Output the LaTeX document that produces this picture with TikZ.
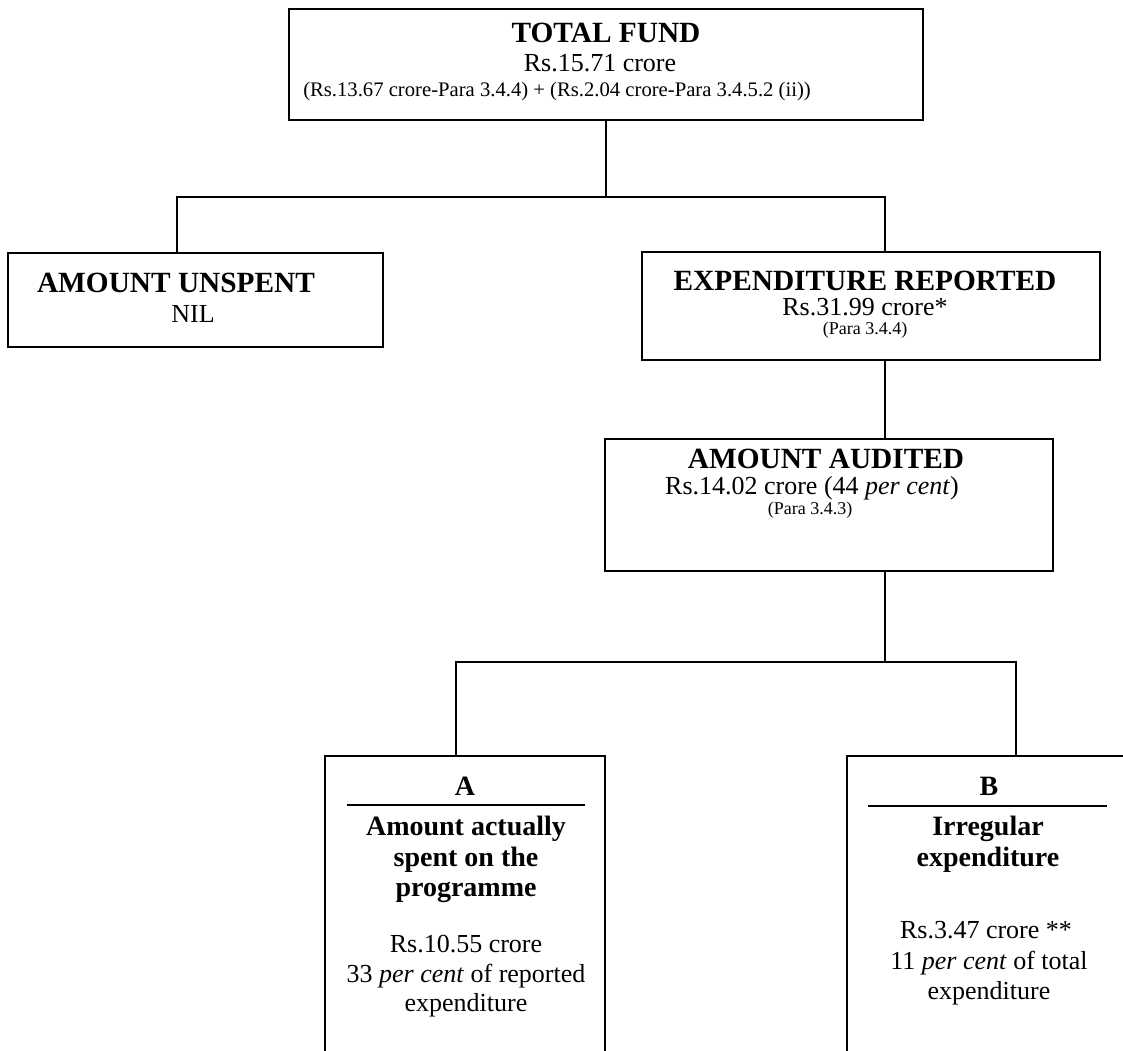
\documentclass[tikz,border=0pt]{standalone}
\usepackage{fontspec}
\setmainfont{Liberation Serif}
\usetikzlibrary{calc}
\begin{document}
\begin{tikzpicture}[x=0.75pt,y=-0.75pt,
  box/.style={draw, line width=1.1pt, rectangle, inner sep=0pt},
  conn/.style={line width=1.1pt},
  hd/.style={anchor=base, font=\fontsize{22}{26}\selectfont\bfseries, inner sep=0pt},
  val/.style={anchor=base, font=\fontsize{19.5}{23}\selectfont, inner sep=0pt},
  para/.style={anchor=base, font=\fontsize{13.5}{16}\selectfont, inner sep=0pt},
  lbl/.style={anchor=base, font=\fontsize{21}{25}\selectfont\bfseries, inner sep=0pt}
]
\useasboundingbox (0,0) rectangle (1123,1050);
\clip (0,0) rectangle (1123,1050);

% boxes
\node[box, minimum width=475.5pt, minimum height=83.25pt] (total) at (606,64.5) {};
\node[box, minimum width=281.25pt, minimum height=70.5pt] (unspent) at (195.5,300) {};
\node[box, minimum width=343.5pt, minimum height=81pt] (exp) at (871,306) {};
\node[box, minimum width=336pt, minimum height=99pt] (aud) at (829,505) {};
\node[box, minimum width=210pt, minimum height=231.75pt] (A) at (465,910.5) {};
\node[box, minimum width=210.75pt, minimum height=231.75pt] (B) at (987.5,910.5) {};

% connectors
\coordinate (jl) at (177,197);
\coordinate (jr) at (885,197);
\draw[conn] (total.south) -- (total.south |- jl);
\draw[conn] (unspent.north -| jl) -- (jl) -- (jr) -- (exp.north -| jr);
\draw[conn] (exp.south -| jr) -- (aud.north -| jr);
\coordinate (km) at (885,662);
\coordinate (kl) at (456,662);
\coordinate (kr) at (1016,662);
\draw[conn] (aud.south -| km) -- (km);
\draw[conn] (A.north -| kl) -- (kl) -- (kr) -- (B.north -| kr);

% texts: total
\node[hd] (t1) at (606,42) {TOTAL FUND};
\node[val] (t2) at (600,71) {Rs.15.71 crore};
\node[anchor=base west, inner sep=0pt, font=\fontsize{15.5}{18}\selectfont] (t3) at (303,96) {(Rs.13.67 crore-Para 3.4.4) + (Rs.2.04 crore-Para 3.4.5.2 (ii))};

% unspent
\node[hd] (u1) at (176,292) {AMOUNT UNSPENT};
\node[val] (u2) at (193,322) {NIL};

% expenditure reported
\node[hd] (e1) at (865,290) {EXPENDITURE REPORTED};
\node[val] (e2) at (865,315) {Rs.31.99 crore*};
\node[para] (e3) at (865,334) {(Para 3.4.4)};

% amount audited
\node[hd] (a1) at (826,468) {AMOUNT AUDITED};
\node[val] (a2) at (812,494) {Rs.14.02 crore (44 \textit{per cent})};
\node[para] (a3) at (810,514) {(Para 3.4.3)};

% box A
\node[lbl] (A0) at (465,795) {A};
\coordinate (ua1) at (347,805);
\coordinate (ua2) at (585,805);
\draw[line width=1pt] (ua1) -- (ua2);
\node[lbl] (A1) at (466,835) {Amount actually};
\node[lbl] (A2) at (466,866) {spent on the};
\node[lbl] (A3) at (466,896) {programme};
\node[val] (A4) at (466,952) {Rs.10.55 crore};
\node[val] (A5) at (466,982) {33 \textit{per cent} of reported};
\node[val] (A6) at (466,1011) {expenditure};

% box B
\node[lbl] (B0) at (989,795) {B};
\coordinate (ub1) at (868,806);
\coordinate (ub2) at (1107,806);
\draw[line width=1pt] (ub1) -- (ub2);
\node[lbl] (B1) at (988,835) {Irregular};
\node[lbl] (B2) at (988,866) {expenditure};
\node[val] (B3) at (986,938) {Rs.3.47 crore **};
\node[val] (B4) at (989,969) {11 \textit{per cent} of total};
\node[val] (B5) at (989,999) {expenditure};
\end{tikzpicture}
\end{document}
